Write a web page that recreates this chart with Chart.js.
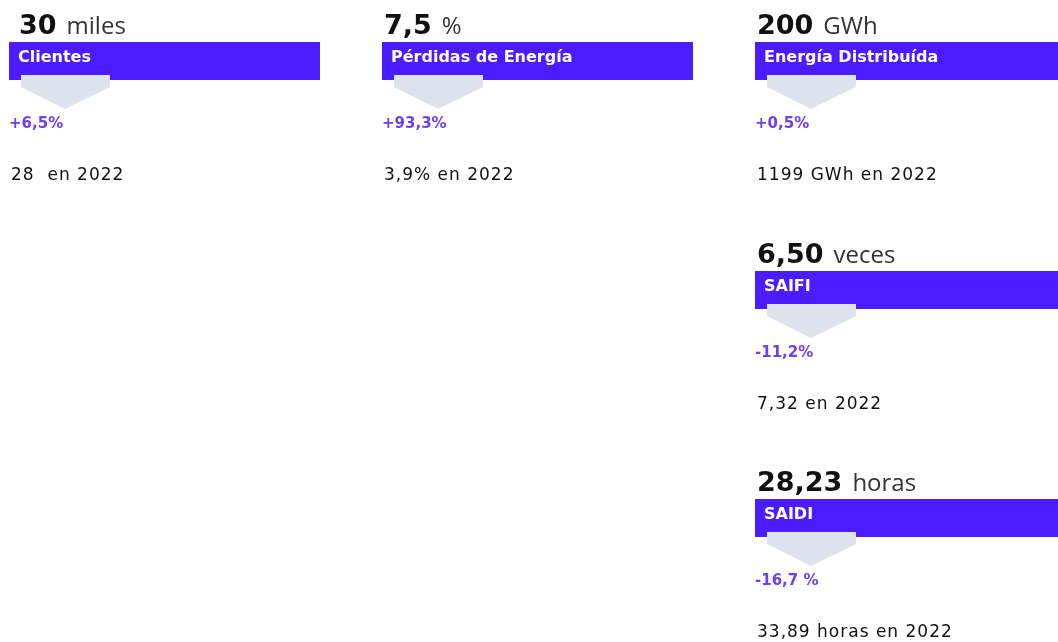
<!DOCTYPE html>
<html lang="es">
<head>
<meta charset="utf-8">
<title>Indicadores 2023</title>
<script src="https://cdn.jsdelivr.net/npm/chart.js@4.4.1/dist/chart.umd.min.js"></script>
<style>
  html, body { margin: 0; padding: 0; background: #fff; }
  #wrap { position: relative; width: 1058px; height: 642px; }
</style>
</head>
<body>
<div id="wrap"><canvas id="kpis"></canvas></div>
<script>
// datos de los indicadores
const titulos = ["Clientes", "Pérdidas de Energía", "Energía Distribuída", "SAIFI", "SAIDI"];
const valores = ["30", "7,5", "200", "6,50", "28,23"];
const unidades = ["miles", "%", "GWh", "veces", "horas"];
const variaciones = ["+6,5%", "+93,3%", "+0,5%", "-11,2%", "-16,7 %"];
const anteriores = ["28  en 2022", "3,9% en 2022", "1199 GWh en 2022", "7,32 en 2022", "33,89 horas en 2022"];

// ubicación en la grilla (columna, fila)
const columnas = [0, 1, 2, 2, 2];
const filas = [0, 0, 0, 1, 2];

const MORADO = "#4b1cff";
const MORADO_TXT = "#6a3ff5";
const GRIS = "#dce3ec";

const tarjetas = {
  id: "tarjetas",
  afterDatasetsDraw(chart) {
    const ctx = chart.ctx;
    const meta = chart.getDatasetMeta(0);
    meta.data.forEach((pt, i) => {
      const bx = Math.round(pt.x);
      const by = Math.round(pt.y);
      const ancho = Math.min(311, chart.width - bx);
      ctx.save();

      // valor grande + unidad
      ctx.textBaseline = "alphabetic";
      ctx.textAlign = "left";
      ctx.fillStyle = "#111";
      ctx.font = "bold 27px 'DejaVu Sans'";
      const vx = bx + (columnas[i] === 0 ? 10 : 2);
      ctx.fillText(valores[i], vx, by - 8);
      const w = ctx.measureText(valores[i]).width;
      ctx.fillStyle = "#333";
      ctx.font = "24px 'Open Sans'";
      ctx.fillText(unidades[i], vx + w + 10, by - 8);

      // banda morada
      ctx.fillStyle = MORADO;
      ctx.fillRect(bx, by, ancho, 38);
      ctx.fillStyle = "#fff";
      ctx.font = "bold 16px 'DejaVu Sans'";
      ctx.fillText(titulos[i], bx + 9, by + 20);

      // flecha gris
      ctx.fillStyle = GRIS;
      ctx.beginPath();
      ctx.moveTo(bx + 12, by + 33);
      ctx.lineTo(bx + 101, by + 33);
      ctx.lineTo(bx + 101, by + 45);
      ctx.lineTo(bx + 56, by + 67);
      ctx.lineTo(bx + 12, by + 45);
      ctx.closePath();
      ctx.fill();

      // variación
      ctx.fillStyle = MORADO_TXT;
      ctx.font = "bold 15px 'DejaVu Sans'";
      ctx.fillText(variaciones[i], bx, by + 86);

      // año anterior
      ctx.fillStyle = "#111";
      ctx.font = "17px 'DejaVu Sans'";
      ctx.letterSpacing = "1px";
      ctx.fillText(anteriores[i], bx + 2, by + 138);
      ctx.restore();
    });
  }
};

new Chart(document.getElementById("kpis"), {
  type: "scatter",
  data: {
    datasets: [{
      data: columnas.map((c, i) => ({ x: c, y: filas[i] })),
      pointRadius: 0
    }]
  },
  options: {
    responsive: true,
    maintainAspectRatio: false,
    animation: false,
    layout: { padding: { left: 9, right: 303, top: 42, bottom: 143 } },
    scales: {
      x: { type: "linear", min: 0, max: 2, display: false },
      y: { type: "linear", min: 0, max: 2, reverse: true, display: false }
    },
    plugins: { legend: { display: false }, tooltip: { enabled: false } }
  },
  plugins: [tarjetas]
});
</script>
</body>
</html>
